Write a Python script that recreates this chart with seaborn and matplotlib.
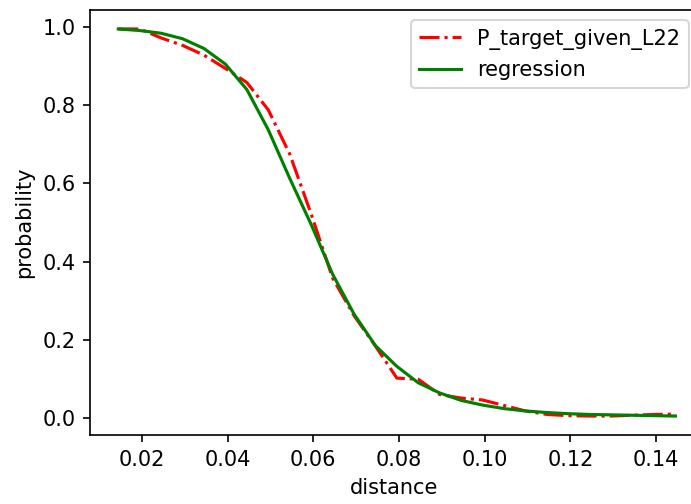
import numpy as np
import pandas as pd
import matplotlib
matplotlib.use("Agg")
import matplotlib.pyplot as plt
import seaborn as sns

# distance bins
distance = [0.0145, 0.0195, 0.0245, 0.0295, 0.0345, 0.0395, 0.0445, 0.0495, 0.0545,
            0.0595, 0.0645, 0.0695, 0.0745, 0.0795, 0.0845, 0.0895, 0.0945, 0.0995,
            0.1045, 0.1095, 0.1145, 0.1195, 0.1245, 0.1295, 0.1345, 0.1395, 0.1445]

# empirical probability
p_target = [0.995, 0.995, 0.972, 0.953, 0.928, 0.894, 0.858, 0.788, 0.675,
            0.522, 0.358, 0.262, 0.184, 0.102, 0.099, 0.060, 0.051, 0.046,
            0.032, 0.018, 0.009, 0.006, 0.005, 0.005, 0.007, 0.009, 0.010]

# fitted regression
regression = [0.995, 0.991, 0.984, 0.970, 0.945, 0.905, 0.840, 0.737, 0.613,
              0.495, 0.368, 0.266, 0.185, 0.132, 0.090, 0.064, 0.045, 0.033,
              0.024, 0.018, 0.014, 0.011, 0.009, 0.008, 0.007, 0.006, 0.005]

df = pd.DataFrame({"distance": distance,
                   "P_target_given_L22": p_target,
                   "regression": regression})

plt.rcParams["font.family"] = "DejaVu Sans"

DPI = 150
fig = plt.figure(figsize=(691 / DPI, 504 / DPI), dpi=DPI)
# axes runs slightly past the right edge, as in the original (cropped) image
ax = fig.add_axes([90 / 691, (504 - 435) / 504, 609 / 691, 425 / 504])

sns.lineplot(data=df, x="distance", y="P_target_given_L22", ax=ax,
             color="red", linestyle="-.", label="P_target_given_L22")
sns.lineplot(data=df, x="distance", y="regression", ax=ax,
             color="green", label="regression")

ax.set_xlabel("distance")
ax.set_ylabel("probability")
ax.set_xticks([0.02, 0.04, 0.06, 0.08, 0.10, 0.12, 0.14])
ax.set_yticks([0.0, 0.2, 0.4, 0.6, 0.8, 1.0])
ax.set_xlim(0.0079, 0.15)
ax.set_ylim(-0.0435, 1.0435)
ax.legend(loc="upper right")

fig.savefig("out.png", dpi=DPI)
